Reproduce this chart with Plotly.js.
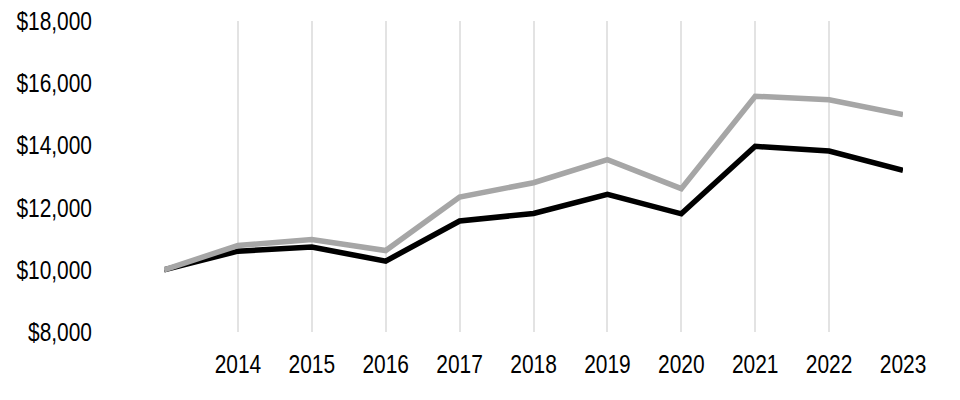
<!DOCTYPE html>
<html>
<head>
<meta charset="utf-8">
<script src="https://cdn.plot.ly/plotly-3.0.1.min.js"></script>
<style>html,body{margin:0;padding:0;background:#fff;}#chart{width:960px;height:400px;}</style>
</head>
<body>
<div id="chart"></div>
<script>
const years = [2013, 2014, 2015, 2016, 2017, 2018, 2019, 2020, 2021, 2022, 2023];
const yearLabels = ["", "2014", "2015", "2016", "2017", "2018", "2019", "2020", "2021", "2022", "2023"];
const seriesBlack = [10000, 10600, 10730, 10280, 11570, 11810, 12430, 11800, 13970, 13820, 13200];
const seriesGray = [10000, 10780, 10970, 10620, 12340, 12800, 13540, 12610, 15580, 15470, 14990];
const yTickVals = [8000, 10000, 12000, 14000, 16000, 18000];
const yTickText = ["$8,000", "$10,000", "$12,000", "$14,000", "$16,000", "$18,000"];

const font = {family: "'Liberation Sans Narrow', 'Arial Narrow', 'Liberation Sans', Arial, sans-serif", size: 25.5, color: "#000"};

const traces = [
  {x: years, y: seriesBlack, type: "scatter", mode: "lines", line: {color: "#000000", width: 5.5}, hoverinfo: "skip", showlegend: false},
  {x: years, y: seriesGray, type: "scatter", mode: "lines", line: {color: "#a6a6a6", width: 5.5}, hoverinfo: "skip", showlegend: false}
];

const layout = {
  width: 960, height: 400,
  margin: {l: 164, r: 57, t: 21, b: 68, pad: 0},
  paper_bgcolor: "#fff", plot_bgcolor: "#fff",
  font: font,
  showlegend: false,
  xaxis: {
    range: [2013, 2023], tickmode: "array", tickvals: years, ticktext: yearLabels,
    showgrid: true, gridcolor: "#e3e3e3", gridwidth: 2,
    zeroline: false, showline: false, ticks: "", ticklabelstandoff: 14,
    tickfont: font, fixedrange: true
  },
  yaxis: {
    range: [8000, 18000], tickmode: "array", tickvals: yTickVals, ticktext: yTickText,
    showgrid: false, zeroline: false, showline: false, ticks: "", ticklabelstandoff: 71,
    tickfont: font, fixedrange: true
  }
};

Plotly.newPlot("chart", traces, layout, {staticPlot: true, displayModeBar: false}).then(function () {
  // emulate a narrow face: compress tick label glyphs horizontally
  document.querySelectorAll("#chart .xtick text, #chart .ytick text").forEach(function (t) {
    const len = t.getComputedTextLength();
    if (len > 0) {
      t.setAttribute("textLength", (len * 0.82).toFixed(2));
      t.setAttribute("lengthAdjust", "spacingAndGlyphs");
    }
  });
});
</script>
</body>
</html>
